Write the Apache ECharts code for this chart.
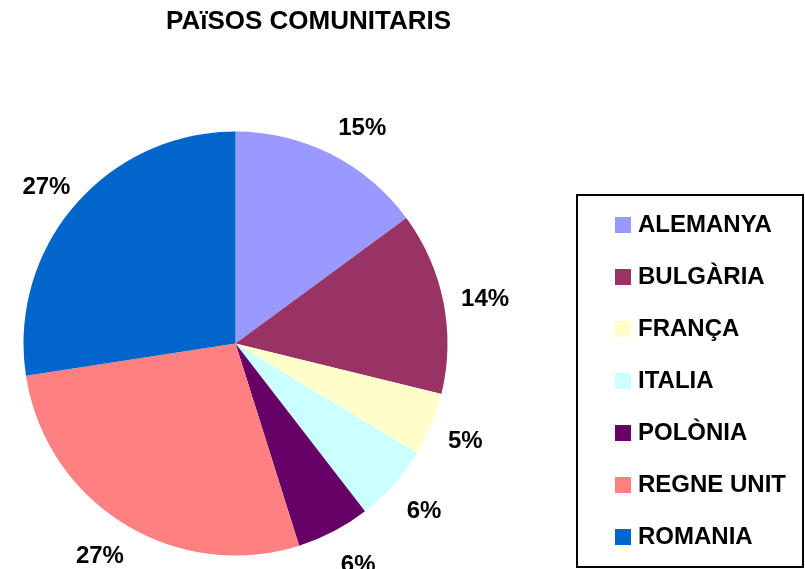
<!DOCTYPE html>
<html>
<head>
<meta charset="utf-8">
<script src="https://cdn.jsdelivr.net/npm/echarts@6/dist/echarts.min.js"></script>
<style>
  html, body { margin: 0; padding: 0; background: #fff; }
  #main { width: 805px; height: 569px; }
</style>
</head>
<body>
<div id="main"></div>
<script>
var countries = ['ALEMANYA', 'BULGÀRIA', 'FRANÇA', 'ITALIA', 'POLÒNIA', 'REGNE UNIT', 'ROMANIA'];
var shares = [14.9, 13.9, 4.8, 5.9, 5.6, 27.4, 27.4];
var colors = ['#9999FF', '#993366', '#FFFFCC', '#CCFFFF', '#660066', '#FF8080', '#0066CC'];

var font = 'Liberation Sans, Arial, sans-serif';
var cx = 235.5, cy = 343.5, r = 212;

// mid angle of every slice (clockwise from 12 o'clock), for placing the % labels like Excel
var total = shares.reduce(function (a, b) { return a + b; }, 0);
var midAngles = [];
var acc = 0;
shares.forEach(function (v) {
  midAngles.push((acc + v / 2) / total * Math.PI * 2);
  acc += v;
});

var sliceData = countries.map(function (c, i) {
  return { name: c, value: shares[i], itemStyle: { color: colors[i] } };
});

var chart = echarts.init(document.getElementById('main'));
chart.setOption({
  animation: false,
  title: {
    text: 'PAïSOS COMUNITARIS',
    left: 166,
    top: 9,
    padding: 0,
    textStyle: { fontFamily: font, fontSize: 26, fontWeight: 'bold', color: '#000' }
  },
  legend: {
    orient: 'vertical',
    left: 577,
    top: 195,
    height: 360,
    padding: [18, 17, 18, 38],
    itemWidth: 16,
    itemHeight: 16,
    itemGap: 28,
    borderColor: '#000',
    borderWidth: 2,
    icon: 'rect',
    data: countries,
    textStyle: { fontFamily: font, fontSize: 24, fontWeight: 'bold', color: '#000', lineHeight: 24, padding: [0, 0, 0, 2] },
    selectedMode: false
  },
  series: [
    {
      type: 'pie',
      center: [cx, cy],
      radius: [0, r],
      startAngle: 90,
      clockwise: true,
      emphasis: { disabled: true },
      label: {
        show: true,
        position: 'outside',
        overflow: 'none',
        fontFamily: font,
        fontSize: 24,
        fontWeight: 'bold',
        color: '#000',
        formatter: function (p) { return Math.round(p.percent) + '%'; }
      },
      labelLine: { show: false },
      labelLayout: function (p) {
        var a = midAngles[p.dataIndex];
        var s = Math.sin(a), c = Math.cos(a);
        var R = r + 20;
        var px = cx + R * s;
        var py = cy - R * c;
        return {
          x: s >= 0 ? px - 2 : px + 11,
          y: py - c * 14 + 4,
          align: s >= 0 ? 'left' : 'right',
          verticalAlign: 'middle'
        };
      },
      data: sliceData
    }
  ]
});
</script>
</body>
</html>
